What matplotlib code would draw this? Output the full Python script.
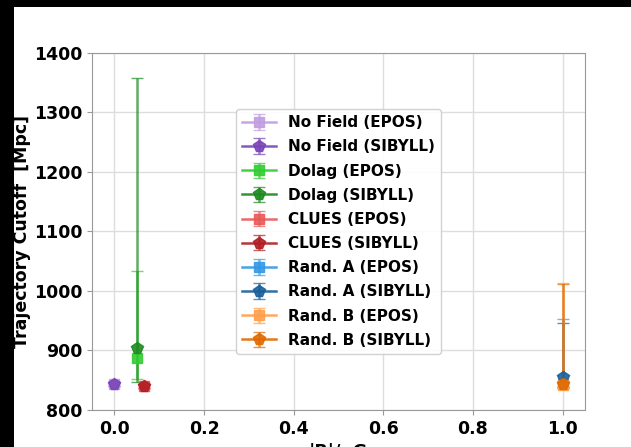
import matplotlib.pyplot as plt
from matplotlib.patches import Rectangle

# field models, in legend order
fields = ["No Field", "Dolag", "CLUES", "Rand. A", "Rand. B"]
b_field = [0.0, 0.05, 0.065, 1.0, 1.0]

# trajectory cutoff [Mpc] per hadronic model
epos_val = [843, 888, 840, 844, 842]
epos_lo = [3, 36, 3, 5, 5]
epos_hi = [3, 145, 3, 109, 171]

sibyll_val = [843, 905, 840, 855, 843]
sibyll_lo = [3, 58, 3, 8, 5]
sibyll_hi = [3, 453, 3, 91, 169]

epos_colors = ["#c09ee0", "#32cd32", "#e85a5a", "#3399e6", "#ffa04d"]
sibyll_colors = ["#7a45b8", "#1f8a1f", "#b01e23", "#1a5f9a", "#e06a00"]

fig = plt.figure(figsize=(6.31, 4.47), dpi=100, facecolor="black")
fig.patches.append(Rectangle((14 / 631, 0), 1, 1 - 7 / 447, transform=fig.transFigure,
                             facecolor="white", edgecolor="none", zorder=-10))
ax = fig.add_axes([92 / 631, (447 - 410) / 447, (585 - 92) / 631, (410 - 53) / 447])


def draw(x, y, lo, hi, marker, color, ms, label):
    cont = ax.errorbar(x, y, yerr=[[lo], [hi]], fmt="-" + marker, color=color, ms=ms,
                       lw=1.8, capsize=4, label=label)
    cont[0].set_alpha(0.9)
    for c in cont[1]:
        c.set_alpha(0.7)
    for c in cont[2]:
        c.set_alpha(0.7)


for i, name in enumerate(fields):
    draw(b_field[i], epos_val[i], epos_lo[i], epos_hi[i], "s", epos_colors[i], 7.5,
         f"{name} (EPOS)")
    draw(b_field[i], sibyll_val[i], sibyll_lo[i], sibyll_hi[i], "p", sibyll_colors[i], 8.5,
         f"{name} (SIBYLL)")

ax.set_xlim(-0.05, 1.05)
ax.set_ylim(800, 1400)
ax.set_xticks([0.0, 0.2, 0.4, 0.6, 0.8, 1.0])
ax.set_yticks(range(800, 1401, 100))
ax.grid(True, color="#dddddd", lw=1)
ax.set_axisbelow(True)
for s in ax.spines.values():
    s.set_color("#999999")
ax.tick_params(colors="#999999", labelcolor="black", labelsize=12.5)
for lab in ax.get_xticklabels() + ax.get_yticklabels():
    lab.set_fontweight("bold")

ax.set_ylabel("Trajectory Cutoff  [Mpc]", fontsize=12.5, fontweight="bold", labelpad=2)
ax.set_xlabel("|B|/nG", fontsize=12.5, fontweight="bold", labelpad=4)

ax.legend(loc="center", prop={"weight": "bold", "size": 11}, framealpha=0.9,
          handlelength=2.2, labelspacing=0.6)

fig.savefig("out.png", dpi=100, facecolor=fig.get_facecolor())
